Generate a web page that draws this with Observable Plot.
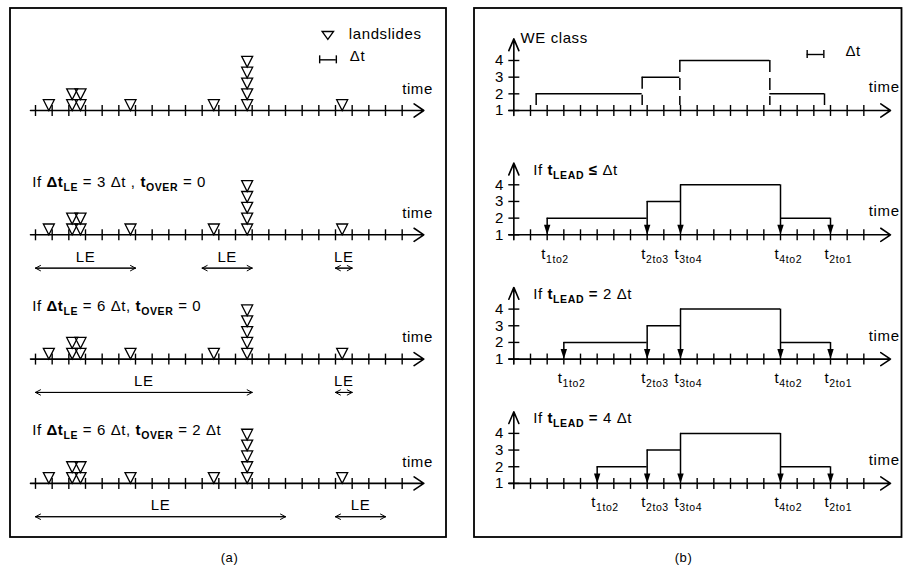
<!DOCTYPE html>
<html><head><meta charset="utf-8">
<script src="https://cdn.jsdelivr.net/npm/d3@7"></script>
<script src="https://cdn.jsdelivr.net/npm/@observablehq/plot@0.6"></script>
<style>body{margin:0;background:#fff} svg{display:block}</style>
</head><body><div id="chart"></div>
<script>
// ---------------- data ----------------
const panelKeys = ["a", "b"];
const panelCaptions = ["(a)", "(b)"];
// landslide times (in Δt units) and number of landslides at each time
const landslideTimes = [0.8, 2.2, 2.7, 5.7, 10.7, 12.7, 18.4];
const landslideCounts = [1, 2, 2, 1, 1, 5, 1];
// landslide-event (LE) scenarios, panel (a)
const leRowTitles = [
  "If *Δt*_{*LE*} = 3 Δt , *t*_{*OVER*} = 0",
  "If *Δt*_{*LE*} = 6 Δt, *t*_{*OVER*} = 0",
  "If *Δt*_{*LE*} = 6 Δt, *t*_{*OVER*} = 2 Δt"
];
const leStarts = [[0, 10, 18], [0, 18], [0, 18]];
const leEnds = [[6, 13, 19], [13, 19], [15, 21]];
// warning-equivalent classes, panel (b)
const weClasses = [2, 3, 4, 2];
const weChangeTimes = [1.34, 7.7, 9.96, 15.36, 18.64];
const leadRowTitles = ["If *t*_{*LEAD*} *≤* Δt", "If *t*_{*LEAD*} *=* 2 Δt", "If *t*_{*LEAD*} *=* 4 Δt"];
const warningTimes = [[2, 8, 10, 16, 19], [3, 8, 10, 16, 19], [5, 8, 10, 16, 19]];
const transitionLabels = ["t_{1to2}", "t_{2to3}", "t_{3to4}", "t_{4to2}", "t_{2to1}"];
const classTicks = [1, 2, 3, 4];
const lastTickA = 22, lastTickB = 21;

// ---------------- layout helpers ----------------
const U = 16.667;               // px per Δt (and per class)
const P = 124.3 / U;            // row pitch in y units
const rows = [0, 1, 2, 3];
const base = r => -r * P;

const triDown = {draw(ctx, size) { const s = Math.sqrt(size / Math.PI);
  ctx.moveTo(-1.1 * s, -2.16 * s); ctx.lineTo(1.1 * s, -2.16 * s); ctx.lineTo(0, 0); ctx.closePath(); }};
const legendTri = {draw(ctx, size) { const s = Math.sqrt(size / Math.PI);
  ctx.moveTo(-1.15 * s, -1.6 * s); ctx.lineTo(1.15 * s, -1.6 * s); ctx.lineTo(0, 0); ctx.closePath(); }};
const headDown = {draw(ctx, size) { const s = Math.sqrt(size / Math.PI);
  ctx.moveTo(-0.64 * s, -2 * s); ctx.lineTo(0.64 * s, -2 * s); ctx.lineTo(0, 0); ctx.closePath(); }};

const axisRows = panelKeys.flatMap(p => rows.map(r => ({panel: p, r, y: base(r)})));
const rightRows = axisRows.filter(d => d.panel === "b");

const ticks = [];
for (const r of rows) {
  for (const t of d3.range(0, lastTickA + 1)) ticks.push({panel: "a", t, y: base(r)});
  for (const t of d3.range(1, lastTickB + 1)) ticks.push({panel: "b", t, y: base(r)});
}

const landslides = landslideTimes.flatMap((t, i) => d3.range(landslideCounts[i]).map(k => ({t, k})));
const tri = rows.flatMap(r => landslides.map(d => ({panel: "a", t: d.t, y: base(r) + d.k * 0.65})));

const leSegs = leStarts.flatMap((starts, i) => starts.map((s, j) => ({panel: "a", r: i + 1, x1: s, x2: leEnds[i][j]})));
const leTitles = leRowTitles.map((text, i) => ({panel: "a", text, y: base(i + 1) + 2.88}));
const leadTitles = leadRowTitles.map((text, i) => ({panel: "b", text, y: base(i + 1) + 3.6}));

const yTicks = rightRows.flatMap(d => classTicks.map(c => ({panel: "b", c, y: d.y + c - 1})));

function segments(times, r) {
  return weClasses.map((c, i) => ({panel: "b", x1: times[i], x2: times[i + 1], y: base(r) + c - 1}));
}
function verticals(times, r) {
  return times.map((t, i) => ({panel: "b", x: t, i, r,
    top: base(r) + Math.max(weClasses[i - 1] ?? 1, weClasses[i] ?? 1) - 1, bottom: base(r)}));
}
const topSegs = segments(weChangeTimes, 0);
const topVerts = verticals(weChangeTimes, 0);
const lowSegs = warningTimes.flatMap((ts, i) => segments(ts, i + 1));
const lowVerts = warningTimes.flatMap((ts, i) => verticals(ts, i + 1));

const frames = [
  {panel: "a", x1: -1.5, x2: 24.66},
  {panel: "b", x1: -2.36, x2: 23.29}
];
const captions = panelKeys.map((p, i) => ({panel: p, text: panelCaptions[i], x: p === "a" ? 11.64 : 10.18}));

const legendA = [{panel: "a"}];
const legendB = [{panel: "b"}];

const chart = Plot.plot({
  width: 903, height: 573,
  marginTop: 0, marginBottom: 0, marginLeft: 10, marginRight: 1.33,
  x: {domain: [-1.5, 23.3], axis: null},
  y: {domain: [-463 / U, 110 / U], axis: null},
  fx: {domain: panelKeys, paddingInner: 0.1359, paddingOuter: 0, axis: null, round: false},
  style: {fontFamily: "'Liberation Sans', Arial, sans-serif", fontSize: "15px", letterSpacing: "0.6px", background: "#fff", color: "#000"},
  marks: [
    // panel frames
    Plot.rect(frames, {fx: "panel", x1: "x1", x2: "x2", y1: 110 / U - 8 / U, y2: -(537 - 110) / U, fill: "none", stroke: "black", strokeWidth: 1.8}),
    // time axes
    Plot.arrow(axisRows, {fx: "panel", x1: -0.3, x2: d => d.panel === "a" ? 23.3 : 22.6, y1: "y", y2: "y",
      stroke: "black", strokeWidth: 1.6, headLength: 11, headAngle: 68}),
    Plot.ruleX(ticks, {fx: "panel", x: "t", y1: d => d.y - 0.36, y2: d => d.y + 0.3, stroke: "black", strokeWidth: 1.4}),
    Plot.text(axisRows, {fx: "panel", x: d => d.panel === "a" ? 22 : 21.3, y: d => d.y + (d.panel === "a" ? 1.0 : 1.1),
      text: () => "time", textAnchor: "start", lineAnchor: "bottom"}),
    // WE class axes (panel b)
    Plot.arrow(rightRows, {fx: "panel", x1: 0, x2: 0, y1: d => d.y - 0.3, y2: d => d.y + 4.3,
      stroke: "black", strokeWidth: 1.6, headLength: 12, headAngle: 46}),
    Plot.ruleY(yTicks, {fx: "panel", y: "y", x1: -0.3, x2: 0.36, stroke: "black", strokeWidth: 1.4}),
    Plot.text(yTicks, {fx: "panel", x: -0.6, y: "y", text: d => String(d.c), textAnchor: "end", fontSize: 15, style: "letter-spacing:0"}),
    // landslides
    Plot.dot(tri, {fx: "panel", x: "t", y: "y", symbol: triDown, r: 5, fill: "none", stroke: "black", strokeWidth: 1.3}),
    // legend (a)
    Plot.dot(legendA, {fx: "panel", x: 17.54, y: 4.26, symbol: legendTri, r: 5, fill: "none", stroke: "black", strokeWidth: 1.3}),
    Plot.text(legendA, {fx: "panel", x: 18.8, y: 4.26, text: () => "landslides", textAnchor: "start", lineAnchor: "bottom"}),
    Plot.ruleY(legendA, {fx: "panel", y: 3.04, x1: 17.05, x2: 18.05, stroke: "black", strokeWidth: 1.4}),
    Plot.ruleX(legendA, {fx: "panel", x: 17.05, y1: 2.8, y2: 3.28, stroke: "black", strokeWidth: 1.4}),
    Plot.ruleX(legendA, {fx: "panel", x: 18.05, y1: 2.8, y2: 3.28, stroke: "black", strokeWidth: 1.4}),
    Plot.text(legendA, {fx: "panel", x: 18.86, y: 2.94, text: () => "Δt", textAnchor: "start", lineAnchor: "bottom"}),
    // LE scenarios
    Plot.text(leTitles, {fx: "panel", x: -0.2, y: "y", text: "text", textAnchor: "start", lineAnchor: "bottom", style: "letter-spacing:0"}),
    Plot.arrow(leSegs, {fx: "panel", x1: "x1", x2: "x2", y1: d => base(d.r) - 2.0, y2: d => base(d.r) - 2.0,
      stroke: "black", strokeWidth: 1, headLength: 8.5, headAngle: 56}),
    Plot.arrow(leSegs, {fx: "panel", x1: "x2", x2: "x1", y1: d => base(d.r) - 2.0, y2: d => base(d.r) - 2.0,
      stroke: "black", strokeWidth: 1, headLength: 8.5, headAngle: 56}),
    Plot.text(leSegs, {fx: "panel", x: d => (d.x1 + d.x2) / 2, y: d => base(d.r) - 1.32, text: () => "LE"}),
    // panel (b) top row
    Plot.text(legendB, {fx: "panel", x: 0.4, y: 4.02, text: () => "WE class", textAnchor: "start", lineAnchor: "bottom"}),
    Plot.ruleY(legendB, {fx: "panel", y: 3.36, x1: 17.6, x2: 18.6, stroke: "black", strokeWidth: 1.4}),
    Plot.ruleX(legendB, {fx: "panel", x: 17.6, y1: 3.12, y2: 3.6, stroke: "black", strokeWidth: 1.4}),
    Plot.ruleX(legendB, {fx: "panel", x: 18.6, y1: 3.12, y2: 3.6, stroke: "black", strokeWidth: 1.4}),
    Plot.text(legendB, {fx: "panel", x: 19.9, y: 3.24, text: () => "Δt", textAnchor: "start", lineAnchor: "bottom"}),
    Plot.ruleY(topSegs, {fx: "panel", y: "y", x1: "x1", x2: "x2", stroke: "black", strokeWidth: 1.5}),
    Plot.ruleX(topVerts, {fx: "panel", x: "x", y1: "top", y2: d => d.bottom + 0.3, stroke: "black", strokeWidth: 1.5, strokeDasharray: "12,6"}),
    // panel (b) lead-time rows
    Plot.text(leadTitles, {fx: "panel", x: 1.16, y: "y", text: "text", textAnchor: "start", lineAnchor: "bottom", style: "letter-spacing:0"}),
    Plot.ruleY(lowSegs, {fx: "panel", y: "y", x1: "x1", x2: "x2", stroke: "black", strokeWidth: 1.5}),
    Plot.ruleX(lowVerts, {fx: "panel", x: "x", y1: "top", y2: d => d.bottom + 0.3, stroke: "black", strokeWidth: 1.5}),
    Plot.dot(lowVerts, {fx: "panel", x: "x", y: "bottom", symbol: headDown, r: 5, fill: "black", stroke: "none"}),
    Plot.text(lowVerts, {fx: "panel", x: "x", y: d => d.bottom - 1.44, text: d => transitionLabels[d.i],
      textAnchor: "start", lineAnchor: "bottom", dx: -6, style: "letter-spacing:0.2px"}),
    // captions
    Plot.text(captions, {fx: "panel", x: "x", y: -(557 - 110) / U, text: "text", fontSize: 13})
  ]
});

// rich text: *bold*, _{subscript}
function richify(svg) {
  const NS = "http://www.w3.org/2000/svg";
  svg.querySelectorAll("text").forEach(el => {
    const s = el.textContent;
    if (!/[*]|_\{/.test(s)) return;
    el.textContent = "";
    let bold = false, sub = false, buf = "", shifted = false;
    const flush = () => {
      if (!buf) return;
      const ts = document.createElementNS(NS, "tspan");
      ts.textContent = buf;
      if (bold) ts.setAttribute("font-weight", "bold");
      if (sub) ts.setAttribute("font-size", "10.5px");
      const want = sub ? 4 : 0, cur = shifted ? 4 : 0;
      if (want !== cur) ts.setAttribute("dy", String(want - cur));
      shifted = sub;
      el.appendChild(ts);
      buf = "";
    };
    for (let i = 0; i < s.length; i++) {
      const ch = s[i];
      if (ch === "*") { flush(); bold = !bold; }
      else if (ch === "_" && s[i + 1] === "{") { flush(); sub = true; i++; }
      else if (ch === "}" && sub) { flush(); sub = false; }
      else buf += ch;
    }
    flush();
  });
}
richify(chart);
document.getElementById("chart").appendChild(chart);
</script>
</body></html>
